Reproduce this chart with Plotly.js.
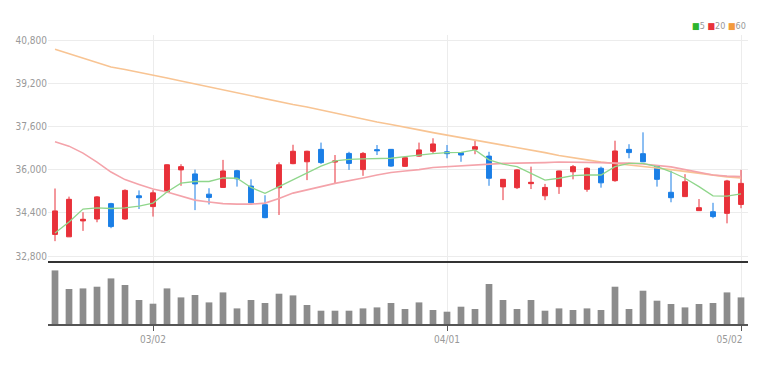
<!DOCTYPE html>
<html>
<head>
<meta charset="utf-8">
<script src="https://cdn.plot.ly/plotly-3.0.1.min.js"></script>
<style>html,body{margin:0;padding:0;background:#fff;}#chart{width:774px;height:365px;}</style>
</head>
<body>
<div id="chart"></div>
<script>
const dates = ['02/18','02/21','02/22','02/23','02/24','02/25','02/28','03/02','03/03','03/04',
  '03/07','03/08','03/10','03/11','03/14','03/15','03/16','03/17','03/18','03/21',
  '03/22','03/23','03/24','03/25','03/28','03/29','03/30','03/31','04/01','04/04',
  '04/05','04/06','04/07','04/08','04/11','04/12','04/13','04/14','04/15','04/18',
  '04/19','04/20','04/21','04/22','04/25','04/26','04/27','04/28','04/29','05/02'];

const openP  = [33600,33510,34100,34170,34740,34170,35030,34630,35180,35990,35840,35090,35340,35960,35390,34700,35330,36220,36290,36750,36280,36600,36000,36740,36750,36120,36500,36680,36660,36630,36750,36500,35360,35330,35480,35030,35370,35920,35270,36050,35590,36750,36590,36130,35160,35000,34480,34440,34380,34710];
const highP  = [35300,35000,34420,35020,34770,35270,35230,35240,36200,36200,36000,35310,36360,35990,35640,35050,36270,36920,36700,37000,36540,36660,36650,36910,36760,36480,37000,37160,36910,36640,37070,36660,35650,36020,36110,35470,35960,36170,36080,36110,37070,36940,37380,36160,35960,35830,34910,34770,35620,35990];
const lowP   = [33350,33510,33730,34050,33830,34140,34540,34260,35150,35400,34500,34710,35320,35370,34750,34200,34320,36200,35610,36210,35470,35990,35770,36540,36100,36100,36480,36600,36420,36290,36570,35400,34870,35280,35280,34870,35100,35640,35180,35330,35550,36420,36280,35370,34790,34990,34470,34200,34010,34570];
const closeP = [34470,34900,34160,34990,33890,35230,34960,35140,36180,36110,35470,34970,35950,35660,34770,34220,36180,36680,36680,36260,36320,36230,36600,36700,36130,36440,36730,36950,36590,36540,36850,35680,35640,35990,35530,35340,35950,36110,36050,35510,36690,36630,36290,35640,34960,35550,34590,34260,35580,35490];

const ma5  = [33650,34060,34540,34580,34560,34580,34650,34760,35170,35500,35560,35560,35690,35680,35340,35120,35370,35630,35870,36130,36320,36380,36400,36400,36420,36480,36540,36590,36630,36640,36730,36360,36200,36110,35860,35610,35680,35780,35800,35800,36110,36230,36230,36110,35920,35680,35370,35030,35020,35100];
const ma20 = [37030,36870,36610,36280,35910,35630,35450,35280,35170,35020,34870,34800,34740,34720,34720,34760,34930,35130,35240,35370,35490,35580,35690,35800,35890,35950,36000,36080,36110,36150,36190,36210,36230,36240,36240,36260,36280,36280,36280,36260,36240,36240,36210,36150,36100,36000,35890,35800,35760,35740];
const ma60 = [40460,40300,40130,39970,39800,39710,39610,39500,39390,39280,39170,39060,38950,38840,38730,38610,38500,38410,38320,38210,38100,37990,37860,37760,37670,37580,37470,37370,37280,37190,37100,37000,36910,36820,36730,36630,36520,36430,36360,36280,36230,36170,36110,36060,36000,35930,35860,35780,35730,35690];

const volume = [1072000,700000,712000,746000,912000,780000,480000,406000,712000,532000,580000,432000,632000,312000,480000,420000,606000,572000,380000,266000,266000,266000,312000,332000,420000,300000,432000,280000,246000,346000,300000,800000,480000,300000,480000,266000,312000,280000,312000,280000,746000,300000,666000,466000,400000,332000,400000,420000,632000,532000];

const xTickVals = ['03/02','04/01','05/02'];
const xTickText = ['03/02','04/01','05/02\u00a0\u00a0\u00a0\u00a0\u00a0\u00a0\u00a0\u00a0'];
const yTickVals = [32800,34400,36000,37600,39200,40800];

const FONT = '"Liberation Sans Narrow", "DejaVu Sans Condensed", "Roboto Condensed", sans-serif';
const RED = '#e8313a', BLUE = '#1b7fe6';

const traces = [
  {type:'bar', x:dates, y:volume, xaxis:'x', yaxis:'y2', marker:{color:'#8c8c8c'}, hoverinfo:'skip'},
  {type:'scatter', mode:'lines', x:dates, y:ma60, xaxis:'x', yaxis:'y', line:{color:'#f8c493', width:1.6}, hoverinfo:'skip'},
  {type:'scatter', mode:'lines', x:dates, y:ma20, xaxis:'x', yaxis:'y', line:{color:'#f4a3aa', width:1.6}, hoverinfo:'skip'},
  {type:'scatter', mode:'lines', x:dates, y:ma5, xaxis:'x', yaxis:'y', line:{color:'#8fd68b', width:1.3}, hoverinfo:'skip'},
  {type:'candlestick', x:dates, open:openP, high:highP, low:lowP, close:closeP, xaxis:'x', yaxis:'y',
   increasing:{line:{color:RED, width:1}, fillcolor:RED},
   decreasing:{line:{color:BLUE, width:1}, fillcolor:BLUE},
   whiskerwidth:0, hoverinfo:'skip'}
];

const layout = {
  width:774, height:365,
  margin:{l:48, r:26, t:35, b:41},
  paper_bgcolor:'#ffffff', plot_bgcolor:'#ffffff',
  showlegend:false,
  font:{family:FONT, color:'#999999', size:10},
  bargap:0.52,
  boxgap:0.5,
  xaxis:{type:'category', range:[-0.5,49.5], tickvals:xTickVals, ticktext:xTickText,
    showgrid:true, gridcolor:'#ececec', gridwidth:1,
    showline:true, linecolor:'#555555', linewidth:2,
    ticks:'outside', ticklen:5, tickwidth:1, tickcolor:'#555555',
    tickfont:{family:FONT, size:10, color:'#999999'},
    anchor:'y2', rangeslider:{visible:false}, fixedrange:true, zeroline:false},
  yaxis:{domain:[0.2145,1], range:[32578,40985], tickvals:yTickVals, tickformat:',',
    showgrid:true, gridcolor:'#ececec', gridwidth:1, zeroline:false, showline:false,
    ticks:'', tickfont:{family:FONT, size:10, color:'#999999'}, fixedrange:true},
  yaxis2:{domain:[0,0.2145], range:[0,1240000], showticklabels:false, showgrid:false,
    zeroline:false, showline:false, fixedrange:true},
  shapes:[{type:'line', xref:'paper', yref:'paper', x0:0, x1:1, y0:0.2145, y1:0.2145,
    line:{color:'#333333', width:2}}],
  annotations:[{xref:'paper', yref:'paper', x:1, y:1.031, xanchor:'right', yanchor:'middle',
    showarrow:false, font:{family:FONT, size:9, color:'#999999'},
    text:'<span style="color:#2db52d">■</span>5 <span style="color:#e8313a">■</span>20 <span style="color:#f39a3c">■</span>60'}]
};

Plotly.newPlot('chart', traces, layout, {displayModeBar:false, staticPlot:true});
</script>
</body>
</html>
